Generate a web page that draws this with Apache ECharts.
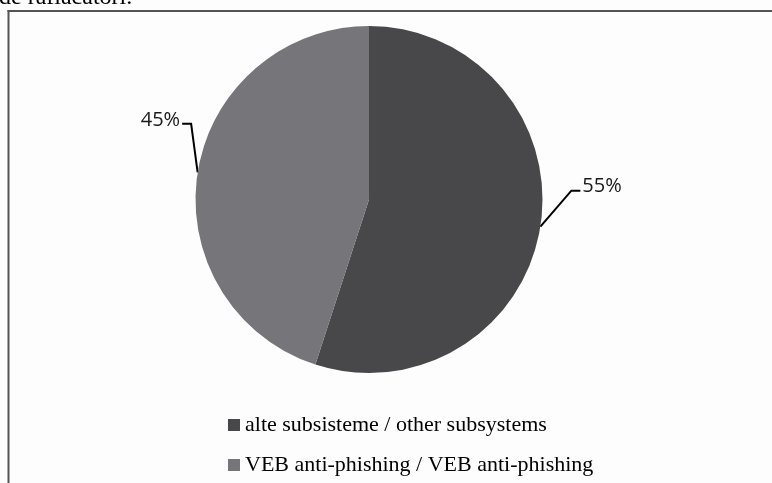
<!DOCTYPE html>
<html>
<head>
<meta charset="utf-8">
<script src="https://cdn.jsdelivr.net/npm/echarts@6/dist/echarts.min.js"></script>
<style>
html,body{margin:0;padding:0;background:#fdfdfd;}
#chart{width:772px;height:483px;}
</style>
</head>
<body>
<div id="chart"></div>
<script>
const categories = ['alte subsisteme / other subsystems', 'VEB anti-phishing / VEB anti-phishing'];
const shares = [55, 45];
const sliceColors = ['#48484a', '#76757a'];
const captionAbove = 'de rafiacatori.';

const chart = echarts.init(document.getElementById('chart'), null, {renderer: 'canvas'});

const pieData = categories.map((name, i) => ({
  name: name,
  value: shares[i],
  itemStyle: {color: sliceColors[i]}
}));

// leader-line offsets relative to the anchor on the slice edge
const leader = [
  {dx: 31, dy: -36, run: 9, align: 'left'},
  {dx: -6.5, dy: -48.5, run: -9, align: 'right'}
];

const legendTops = [414, 454];
const legends = categories.map((c, i) => ({
  orient: 'vertical',
  left: 228,
  top: legendTops[i],
  padding: 0,
  itemWidth: 12,
  itemHeight: 12,
  icon: 'rect',
  data: [c],
  textStyle: {fontFamily: 'Liberation Serif', fontSize: 22, lineHeight: 22, color: '#000'}
}));

const option = {
  backgroundColor: '#fdfdfd',
  animation: false,
  graphic: [
    {type: 'line', shape: {x1: 8.5, y1: 10, x2: 8.5, y2: 483}, style: {stroke: '#555', lineWidth: 2}},
    {type: 'line', shape: {x1: 7.5, y1: 11, x2: 772, y2: 11}, style: {stroke: '#555', lineWidth: 2}},
    {type: 'text', x: -1, y: -2, style: {text: captionAbove, font: '24px "Liberation Serif"', fill: '#000', verticalAlign: 'middle', align: 'left'}}
  ],
  legend: legends,
  series: [{
    type: 'pie',
    center: [369, 199.5],
    radius: [0, 173.5],
    startAngle: 90,
    clockwise: true,
    data: pieData,
    itemStyle: {borderWidth: 0},
    emphasis: {disabled: true},
    label: {
      show: true,
      formatter: '{d}%',
      fontFamily: '"Open Sans"',
      fontSize: 20,
      color: '#1a1a1a'
    },
    labelLine: {
      show: true,
      length: 20,
      length2: 10,
      lineStyle: {color: '#000', width: 2}
    },
    labelLayout: function (params) {
      const pts = params.labelLinePoints;
      const cfg = leader[params.dataIndex];
      if (!pts || !cfg) return {};
      const p0 = pts[0];
      const p1 = [p0[0] + cfg.dx, p0[1] + cfg.dy];
      const p2 = [p1[0] + cfg.run, p1[1]];
      const tx = cfg.align === 'left' ? p2[0] + 2 : p2[0] - 2;
      return {
        x: tx,
        y: p2[1] - 4,
        align: cfg.align,
        verticalAlign: 'middle',
        labelLinePoints: [p0, p1, p2]
      };
    }
  }]
};
chart.setOption(option);
</script>
</body>
</html>
